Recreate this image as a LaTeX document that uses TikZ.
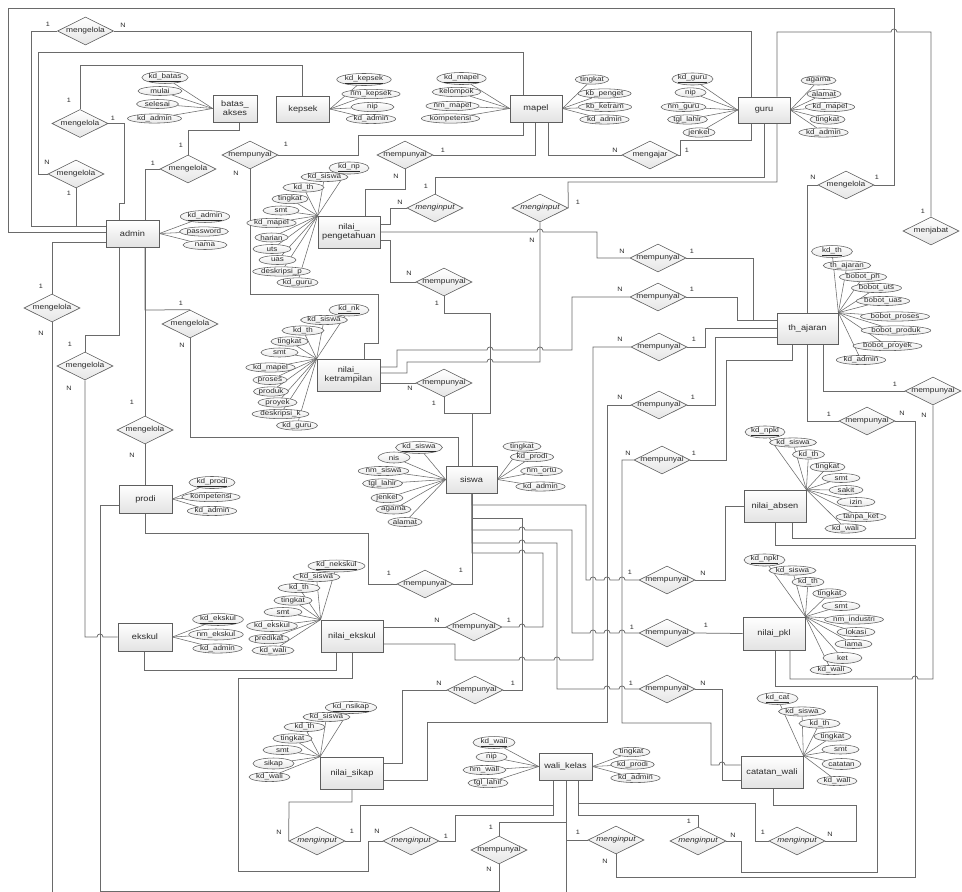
\documentclass[tikz,border=0pt]{standalone}
\usepackage{fontspec}
\setmainfont[FakeStretch=1.15]{Liberation Sans}
\usetikzlibrary{shapes.geometric}
\pgfdeclarelayer{background}
\pgfsetlayers{background,main}
\definecolor{ln}{HTML}{6A6A6A}
\definecolor{bd}{HTML}{5E5E5E}
\definecolor{tx}{HTML}{2A2A2A}
% line hops over a crossing vertical line: rightward / leftward
\def\hopR#1#2{-- (#1-3,#2) .. controls (#1-3,#2-4) and (#1+3,#2-4) .. (#1+3,#2)}
\def\hopL#1#2{-- (#1+3,#2) .. controls (#1+3,#2-4) and (#1-3,#2-4) .. (#1-3,#2)}
\tikzset{
  conn/.style={draw=ln, line width=0.75pt},
  fan/.style={draw=ln, line width=0.55pt},
  ent/.style={rectangle, draw=bd, line width=0.7pt, top color=white, bottom color=gray!22,
    text=tx, font=\fontsize{8}{9}\selectfont, align=center, inner sep=1pt},
  attr/.style={ellipse, draw=bd, line width=0.55pt, top color=white, bottom color=gray!18,
    text=tx, font=\fontsize{7}{7}\selectfont, inner sep=0pt, minimum height=9pt},
  rel/.style={diamond, draw=bd, line width=0.6pt, top color=white, bottom color=gray!20,
    text=tx, font=\fontsize{7.3}{8}\selectfont, inner sep=-1pt, minimum width=56pt,
    minimum height=28pt, aspect=2},
  card/.style={text=tx, font=\fontsize{6.3}{6}\selectfont, inner sep=0pt},
}
\begin{document}
\begin{tikzpicture}[x=1pt,y=-1pt]
\useasboundingbox (0,0) rectangle (962,892);
\begin{pgfonlayer}{background}
\fill[white] (0,0) rectangle (962,892);
\end{pgfonlayer}

% ---------------- entities
\node[ent, minimum width=53pt, minimum height=27pt] (admin) at (132.5,233.5) {admin};
\node[ent, minimum width=44pt, minimum height=27pt] (batas) at (235,108.5) {batas\_\\akses};
\node[ent, minimum width=53pt, minimum height=26pt] (kepsek) at (303,109) {kepsek};
\node[ent, minimum width=52pt, minimum height=27pt] (mapel) at (536,108.5) {mapel};
\node[ent, minimum width=52pt, minimum height=26pt] (guru) at (764,110) {guru};
\node[ent, minimum width=62pt, minimum height=32pt] (npeng) at (349,232) {nilai\_\\pengetahuan};
\node[ent, minimum width=63pt, minimum height=32pt] (nket) at (348.5,375) {nilai\_\\ketrampilan};
\node[ent, minimum width=61pt, minimum height=31pt] (thaj) at (807.5,328.5) {th\_ajaran};
\node[ent, minimum width=51pt, minimum height=27pt] (siswa) at (471.5,479.5) {siswa};
\node[ent, minimum width=53pt, minimum height=28pt] (prodi) at (145.5,499) {prodi};
\node[ent, minimum width=62pt, minimum height=32pt] (nabsen) at (775,506) {nilai\_absen};
\node[ent, minimum width=62pt, minimum height=33pt] (npkl) at (774,633.5) {nilai\_pkl};
\node[ent, minimum width=62pt, minimum height=32pt] (catwali) at (772,772) {catatan\_wali};
\node[ent, minimum width=53pt, minimum height=27pt] (walikelas) at (565.5,766.5) {wali\_kelas};
\node[ent, minimum width=63pt, minimum height=32pt] (nsikap) at (352,773) {nilai\_sikap};
\node[ent, minimum width=62pt, minimum height=32pt] (nekskul) at (352,636) {nilai\_ekskul};
\node[ent, minimum width=54pt, minimum height=28pt] (ekskul) at (145,637) {ekskul};

% ---------------- relationships
\node[rel] (D1) at (85.5,31) {mengelola};
\node[rel] (D2) at (80,123.5) {mengelola};
\node[rel] (D3) at (76,174) {mengelola};
\node[rel] (D4) at (188,169) {mengelola};
\node[rel] (D5) at (250,155) {mempunyai};
\node[rel] (D6) at (405,155) {mempunyai};
\node[rel] (D7) at (435,208) {\itshape menginput};
\node[rel] (D8) at (540,208) {\itshape menginput};
\node[rel] (D9) at (444,282) {mempunyai};
\node[rel] (D10) at (650,155) {mengajar};
\node[rel] (D11) at (846,185) {mengelola};
\node[rel] (D12) at (931,231) {menjabat};
\node[rel] (D13) at (658,258) {mempunyai};
\node[rel] (D14) at (658,297) {mempunyai};
\node[rel] (D15) at (659,347) {mempunyai};
\node[rel] (D16) at (659,405) {mempunyai};
\node[rel] (D17) at (52,308) {mengelola};
\node[rel] (D18) at (85,366) {mengelola};
\node[rel] (D19) at (190,324) {mengelola};
\node[rel] (D20) at (145,430) {mengelola};
\node[rel] (D21) at (444,383) {mempunyai};
\node[rel] (D22) at (425,584) {mempunyai};
\node[rel] (D23) at (474,627) {mempunyai};
\node[rel] (D24) at (475,690) {mempunyai};
\node[rel] (D25) at (667,580) {mempunyai};
\node[rel] (D26) at (667,633) {mempunyai};
\node[rel] (D27) at (667,689) {mempunyai};
\node[rel] (D28) at (662,460) {mempunyai};
\node[rel] (D29) at (933,391) {mempunyai};
\node[rel] (D30) at (867,421) {mempunyai};
\node[rel] (D33) at (411,841) {\itshape menginput};
\node[rel] (D34) at (317,841) {\itshape menginput};
\node[rel] (D35) at (499,850) {mempunyai};
\node[rel] (D36) at (616,840) {\itshape menginput};
\node[rel] (D37) at (698,841) {\itshape menginput};
\node[rel] (D38) at (797,841) {\itshape menginput};

% ---------------- attributes
% batas_akses
\node[attr, minimum width=46pt] (bt1) at (165,77.5) {\underline{kd\_batas}};
\node[attr, minimum width=44pt] (bt2) at (160,91) {mulai};
\node[attr, minimum width=42pt] (bt3) at (157.5,104) {selesai};
\node[attr, minimum width=54pt] (bt4) at (154.5,118.5) {kd\_admin};
% kepsek
\node[attr, minimum width=47pt] (kp1) at (364,79.5) {\underline{kd\_kepsek}};
\node[attr, minimum width=47pt] (kp2) at (371,94) {nm\_kepsek};
\node[attr, minimum width=43pt] (kp3) at (372.5,107) {nip};
\node[attr, minimum width=46pt] (kp4) at (371,119) {kd\_admin};
% mapel
\node[attr, minimum width=47pt] (mp1) at (461.5,78.5) {\underline{kd\_mapel}};
\node[attr, minimum width=43pt] (mp2) at (456.5,92) {kelompok};
\node[attr, minimum width=41pt] (mp3) at (452.5,106) {nm\_mapel};
\node[attr, minimum width=55pt] (mp4) at (450.5,118.5) {kompetensi};
\node[attr, minimum width=32pt] (mp5) at (592,79.5) {tingkat};
\node[attr, minimum width=45pt] (mp6) at (604.5,93.5) {kb\_penget};
\node[attr, minimum width=45pt] (mp7) at (605,107) {kb\_ketram};
\node[attr, minimum width=45pt] (mp8) at (604.5,119.5) {kd\_admin};
% guru
\node[attr, minimum width=41pt] (gr1) at (692.5,79) {\underline{kd\_guru}};
\node[attr, minimum width=31pt] (gr2) at (690.5,92.5) {nip};
\node[attr, minimum width=43pt] (gr3) at (683.5,107) {nm\_guru};
\node[attr, minimum width=39pt] (gr4) at (687.5,119.5) {tgl\_lahir};
\node[attr, minimum width=32pt] (gr5) at (699,132.5) {jenkel};
\node[attr, minimum width=33pt] (gr6) at (818.5,80.5) {agama};
\node[attr, minimum width=32pt] (gr7) at (824,94) {alamat};
\node[attr, minimum width=38pt] (gr8) at (830,107) {kd\_mapel};
\node[attr, minimum width=35pt] (gr9) at (827.5,119.5) {tingkat};
\node[attr, minimum width=41pt] (gr10) at (823.5,132.5) {kd\_admin};
% admin
\node[attr, minimum width=46pt] (ad1) at (205,216.5) {\underline{kd\_admin}};
\node[attr, minimum width=48pt] (ad2) at (204,231.5) {password};
\node[attr, minimum width=44pt] (ad3) at (205,245) {nama};
% nilai_pengetahuan
\node[attr, minimum width=40pt] (np1) at (349,168) {\underline{kd\_np}};
\node[attr, minimum width=38pt] (np2) at (324.5,177) {kd\_siswa};
\node[attr, minimum width=41pt] (np3) at (303.5,187.5) {kd\_th};
\node[attr, minimum width=36pt] (np4) at (290,199) {tingkat};
\node[attr, minimum width=36pt] (np5) at (281,210.5) {smt};
\node[attr, minimum width=40pt] (np6) at (271.5,223) {kd\_mapel};
\node[attr, minimum width=33pt] (np7) at (271.5,237.5) {harian};
\node[attr, minimum width=38pt] (np8) at (272,249) {uts};
\node[attr, minimum width=37pt] (np9) at (277.5,260) {uas};
\node[attr, minimum width=49pt] (np10) at (281.5,271.5) {deskripsi\_p};
\node[attr, minimum width=41pt] (np11) at (297.5,282.5) {kd\_guru};
% nilai_ketrampilan
\node[attr, minimum width=40pt] (nk1) at (349,310) {\underline{kd\_nk}};
\node[attr, minimum width=38pt] (nk2) at (324,320) {kd\_siswa};
\node[attr, minimum width=42pt] (nk3) at (303,330.5) {kd\_th};
\node[attr, minimum width=37pt] (nk4) at (289.5,341.5) {tingkat};
\node[attr, minimum width=37pt] (nk5) at (279.5,352.5) {smt};
\node[attr, minimum width=40pt] (nk6) at (270.5,367.5) {kd\_mapel};
\node[attr, minimum width=33pt] (nk7) at (270,380) {proses};
\node[attr, minimum width=35pt] (nk8) at (271,391.5) {produk};
\node[attr, minimum width=39pt] (nk9) at (277.5,402.5) {proyek};
\node[attr, minimum width=49pt] (nk10) at (280.5,414) {deskripsi\_k};
\node[attr, minimum width=40pt] (nk11) at (297,425.5) {kd\_guru};
% siswa
\node[attr, minimum width=42pt] (sw1) at (419,447.5) {\underline{kd\_siswa}};
\node[attr, minimum width=32pt, minimum height=11pt] (sw2) at (394,457.5) {nis};
\node[attr, minimum width=41pt] (sw3) at (383.5,471) {nm\_siswa};
\node[attr, minimum width=37pt] (sw4) at (382.5,483.5) {tgl\_lahir};
\node[attr, minimum width=32pt] (sw5) at (387,498) {jenkel};
\node[attr, minimum width=33pt] (sw6) at (393.5,509.5) {agama};
\node[attr, minimum width=34pt] (sw7) at (405,522) {alamat};
\node[attr, minimum width=38pt] (sw8) at (522,446.5) {tingkat};
\node[attr, minimum width=37pt] (sw9) at (532,457) {kd\_prodi};
\node[attr, minimum width=41pt] (sw10) at (541.5,471) {nm\_ortu};
\node[attr, minimum width=41pt] (sw11) at (540.5,486.5) {kd\_admin};
% th_ajaran
\node[attr, minimum width=41pt] (th1) at (832,251.5) {\underline{kd\_th}};
\node[attr, minimum width=40pt] (th2) at (847,265.5) {th\_ajaran};
\node[attr, minimum width=38pt] (th3) at (863,277) {bobot\_ph};
\node[attr, minimum width=40pt] (th4) at (876.5,288) {bobot\_uts};
\node[attr, minimum width=40pt] (th5) at (883,301) {bobot\_uas};
\node[attr, minimum width=55pt] (th6) at (895,316.5) {bobot\_proses};
\node[attr, minimum width=54pt] (th7) at (896,330.5) {bobot\_produk};
\node[attr, minimum width=55pt] (th8) at (887.5,346) {bobot\_proyek};
\node[attr, minimum width=42pt] (th9) at (861,360) {kd\_admin};
% nilai_absen
\node[attr, minimum width=40pt] (ab1) at (765,432) {\underline{kd\_npkl}};
\node[attr, minimum width=38pt] (ab2) at (793,442.5) {kd\_siswa};
\node[attr, minimum width=32pt] (ab3) at (808.5,454.5) {kd\_th};
\node[attr, minimum width=35pt] (ab4) at (827.5,467) {tingkat};
\node[attr, minimum width=38pt] (ab5) at (841,478) {smt};
\node[attr, minimum width=34pt] (ab6) at (846,490) {sakit};
\node[attr, minimum width=38pt] (ab7) at (856,502) {izin};
\node[attr, minimum width=44pt] (ab8) at (861,517) {tanpa\_ket};
\node[attr, minimum width=41pt] (ab9) at (845.5,528.5) {kd\_wali};
% nilai_pkl
\node[attr, minimum width=41pt] (pk1) at (764.5,560) {\underline{kd\_npkl}};
\node[attr, minimum width=39pt] (pk2) at (792.5,570.5) {kd\_siswa};
\node[attr, minimum width=32pt] (pk3) at (808,582) {kd\_th};
\node[attr, minimum width=32pt] (pk4) at (829.5,593.5) {tingkat};
\node[attr, minimum width=38pt] (pk5) at (841,606) {smt};
\node[attr, minimum width=52pt] (pk6) at (854,619.5) {nm\_industri};
\node[attr, minimum width=38pt] (pk7) at (856,632) {lokasi};
\node[attr, minimum width=37pt] (pk8) at (853.5,644) {lama};
\node[attr, minimum width=39pt, minimum height=11pt] (pk9) at (842.5,658) {ket};
\node[attr, minimum width=42pt] (pk10) at (831,670) {kd\_wali};
% catatan_wali
\node[attr, minimum width=41pt] (cw1) at (777.5,698.5) {\underline{kd\_cat}};
\node[attr, minimum width=38pt] (cw2) at (802,711.5) {kd\_siswa};
\node[attr, minimum width=41pt] (cw3) at (819.5,723.5) {kd\_th};
\node[attr, minimum width=37pt] (cw4) at (832.5,736.5) {tingkat};
\node[attr, minimum width=37pt] (cw5) at (840.5,749.5) {smt};
\node[attr, minimum width=39pt, minimum height=11pt] (cw6) at (841.5,764) {catatan};
\node[attr, minimum width=40pt] (cw7) at (837,781) {kd\_wali};
% wali_kelas
\node[attr, minimum width=42pt] (wk1) at (494,742.5) {\underline{kd\_wali}};
\node[attr, minimum width=31pt] (wk2) at (491.5,757) {nip};
\node[attr, minimum width=43pt] (wk3) at (484.5,770) {nm\_wali};
\node[attr, minimum width=38pt] (wk4) at (488,783) {tgl\_lahir};
\node[attr, minimum width=37pt] (wk5) at (631.5,752) {tingkat};
\node[attr, minimum width=39pt] (wk6) at (632.5,764.5) {kd\_prodi};
\node[attr, minimum width=45pt] (wk7) at (635.5,778) {kd\_admin};
% nilai_sikap
\node[attr, minimum width=40pt] (sk1) at (351,707.5) {\underline{kd\_nsikap}};
\node[attr, minimum width=37pt] (sk2) at (326.5,717) {kd\_siswa};
\node[attr, minimum width=41pt] (sk3) at (304.5,727) {kd\_th};
\node[attr, minimum width=39pt] (sk4) at (292.5,738.5) {tingkat};
\node[attr, minimum width=39pt] (sk5) at (282.5,750) {smt};
\node[attr, minimum width=41pt, minimum height=11pt] (sk6) at (273.5,763.5) {sikap};
\node[attr, minimum width=41pt] (sk7) at (269.5,777) {kd\_wali};
% nilai_ekskul
\node[attr, minimum width=47pt] (ne1) at (336.5,566) {\underline{kd\_nekskul}};
\node[attr, minimum width=37pt] (ne2) at (316.5,577) {kd\_siswa};
\node[attr, minimum width=42pt] (ne3) at (299,588) {kd\_th};
\node[attr, minimum width=38pt] (ne4) at (293,600.5) {tingkat};
\node[attr, minimum width=38pt] (ne5) at (283,612) {smt};
\node[attr, minimum width=46pt, minimum height=11pt] (ne6) at (272,626) {kd\_ekskul};
\node[attr, minimum width=40pt] (ne7) at (269,639) {predikat};
\node[attr, minimum width=42pt] (ne8) at (273,650.5) {kd\_wali};
% ekskul
\node[attr, minimum width=46pt] (ek1) at (218,619.5) {\underline{kd\_ekskul}};
\node[attr, minimum width=46pt, minimum height=11pt] (ek2) at (216,634.5) {nm\_ekskul};
\node[attr, minimum width=45pt] (ek3) at (217.5,648.5) {kd\_admin};
% prodi
\node[attr, minimum width=46pt] (pr1) at (212,482.5) {\underline{kd\_prodi}};
\node[attr, minimum width=48pt] (pr2) at (211,497) {kompetensi};
\node[attr, minimum width=46pt] (pr3) at (212,511) {kd\_admin};

% free ends at the lower edge
\coordinate (e1) at (52,892);
\coordinate (e2) at (566,892);

% ---------------- cardinalities
\foreach \t/\x/\y [count=\i] in {
 1/48/24, N/123/25, 1/69/100, 1/113/118, N/47/162, 1/69/193,
 1/181/145, 1/153/163, 1/286/144, N/236/173, 1/443/150, N/396/176,
 1/426/186, N/400/202, 1/578/202, N/532/240, N/409/273, 1/437/303,
 N/615/150, 1/687/150, N/813/177, 1/877/177, 1/923/211,
 N/622/251, 1/692/251, N/620/289, 1/692/289, N/620/339, 1/694/339,
 N/620/397, 1/693/397, 1/41/286, N/41/333, 1/70/344, N/69/388,
 1/181/303, N/182/345, 1/132/402, N/132/455, N/410/388, 1/434/403,
 1/389/573, 1/461/570, N/437/620, 1/509/620, N/439/683, 1/513/683,
 1/630/572, N/703/573, 1/632/627, 1/706/625, 1/631/683, N/703/683,
 N/628/453, 1/694/453, 1/895/384, N/924/415, 1/829/414, N/902/413,
 N/377/831, 1/446/836, N/279/832, 1/352/831, 1/491/827, N/489/869,
 1/578/832, N/605/861, 1/689/821, N/733/835, 1/763/832, N/830/834}
 \node[card] (c\i) at (\x,\y) {\t};

% ---------------- connectors
\begin{pgfonlayer}{background}
% attribute fans
\foreach \n in {bt1,bt2,bt3,bt4} \draw[fan] (batas.west) -- (\n);
\foreach \n in {kp1,kp2,kp3,kp4} \draw[fan] (kepsek.east) -- (\n);
\foreach \n in {mp1,mp2,mp3,mp4} \draw[fan] (mapel.west) -- (\n);
\foreach \n in {mp5,mp6,mp7,mp8} \draw[fan] (mapel.east) -- (\n);
\foreach \n in {gr1,gr2,gr3,gr4,gr5} \draw[fan] (guru.west) -- (\n);
\foreach \n in {gr6,gr7,gr8,gr9,gr10} \draw[fan] (guru.east) -- (\n);
\foreach \n in {ad1,ad2,ad3} \draw[fan] (admin.east) -- (\n);
\foreach \n in {np1,np2,np3,np4,np5,np6,np7,np8,np9,np10,np11} \draw[fan] (npeng.north west) -- (\n);
\foreach \n in {nk1,nk2,nk3,nk4,nk5,nk6,nk7,nk8,nk9,nk10,nk11} \draw[fan] (nket.north west) -- (\n);
\foreach \n in {sw1,sw2,sw3,sw4,sw5,sw6,sw7} \draw[fan] (siswa.west) -- (\n);
\foreach \n in {sw8,sw9,sw10,sw11} \draw[fan] (siswa.east) -- (\n);
\foreach \n in {th1,th2,th3,th4,th5,th6,th7,th8,th9} \draw[fan] (thaj.north east) -- (\n);
\foreach \n in {ab1,ab2,ab3,ab4,ab5,ab6,ab7,ab8,ab9} \draw[fan] (nabsen.north east) -- (\n);
\foreach \n in {pk1,pk2,pk3,pk4,pk5,pk6,pk7,pk8,pk9,pk10} \draw[fan] (npkl.north east) -- (\n);
\foreach \n in {cw1,cw2,cw3,cw4,cw5,cw6,cw7} \draw[fan] (catwali.north east) -- (\n);
\foreach \n in {wk1,wk2,wk3,wk4} \draw[fan] (walikelas.west) -- (\n);
\foreach \n in {wk5,wk6,wk7} \draw[fan] (walikelas.east) -- (\n);
\foreach \n in {sk1,sk2,sk3,sk4,sk5,sk6,sk7} \draw[fan] (nsikap.north west) -- (\n);
\foreach \n in {ne1,ne2,ne3,ne4,ne5,ne6,ne7,ne8} \draw[fan] (nekskul.north west) -- (\n);
\foreach \n in {ek1,ek2,ek3} \draw[fan] (ekskul.east) -- (\n);
\foreach \n in {pr1,pr2,pr3} \draw[fan] (prodi.east) -- (\n);

% admin relationships
\draw[conn] (admin.west |- 0,232) -- (8,232) -- (8,8) -- (894,8) -- (894,185) -- (D11.east);
\draw[conn] (D11.west) -- (807,185) -- (807,0 |- thaj.north);
\draw[conn] (D1.west) -- (31,31) -- (31,226) -- (admin.west |- 0,226);
\draw[conn] (D1.east) -- (751,31) -- (751,0 |- guru.north);
\draw[conn] (D2.north) -- (80,65) -- (302,65) -- (302,0 |- kepsek.north);
\draw[conn] (D2.east) -- (124,123.5) -- (124,203) -- (119,203) -- (119,0 |- admin.north);
\draw[conn] (D3.west) -- (38,174) -- (38,52) -- (523,52) -- (523,0 |- mapel.north);
\draw[conn] (D3.south) -- (76,226) -- (admin.west |- 0,226);
\draw[conn] (D4.north) -- (188,130) -- (239,130) -- (239,0 |- batas.south);
\draw[conn] (D4.west) -- (145,169) -- (145,0 |- admin.north);
\draw[conn] (admin.west |- 0,242) -- (52,242) -- (D17.north);
\draw[conn] (D17.south) -- (e1);
\draw[conn] (admin.south -| 119,0) -- (119,335) -- (85,335) -- (D18.north);
\draw[conn] (D18.south) -- (85,637) \hopR{100}{637} -- (ekskul.west);
\draw[conn] (admin.south -| 145,0) -- (145,310) -- (D19.north);
\draw[conn] (D19.south) -- (190,437) -- (458,437) -- (458,0 |- siswa.north);
\draw[conn] (admin.south -| 145,0) -- (D20.north);
\draw[conn] (D20.south) -- (prodi.north -| 145,0);

% mapel and guru
\draw[conn] (D5.east) -- (358,155) -- (358,135) -- (523,135) -- (523,0 |- mapel.south);
\draw[conn] (D5.south) -- (250,294) -- (378,294) -- (378,343) -- (364,343) -- (364,0 |- nket.north);
\draw[conn] (D6.east) -- (535,155) -- (535,0 |- mapel.south);
\draw[conn] (D6.south) -- (405,189) -- (365,189) -- (365,0 |- npeng.north);
\draw[conn] (mapel.south -| 548,0) -- (548,155) -- (D10.west);
\draw[conn] (D10.east) -- (680,155) -- (680,140) -- (751,140) -- (guru.south -| 751,0);
\draw[conn] (guru.south -| 764,0) -- (764,177) -- (435,177) -- (D7.north);
\draw[conn] (D7.west) -- (390,208) -- (390,224) -- (npeng.east |- 0,224);
\draw[conn] (guru.south -| 777,0) -- (777,182) -- (568,182) -- (D8.east);
\draw[conn] (D8.south) -- (540,362) \hopL{490}{362} -- (407,362) -- (407,373) -- (nket.east |- 0,373);
\draw[conn] (guru.north -| 777,0) -- (777,32) \hopR{894}{32} -- (931,32) -- (D12.north);

% th_ajaran
\draw[conn] (npeng.east |- 0,232) \hopR{540}{232} -- (597,232) -- (597,258) -- (D13.west);
\draw[conn] (D13.east) -- (753,258) -- (753,320) -- (thaj.west |- 0,320);
\draw[conn] (D14.west) -- (572,297) -- (572,350) \hopL{540}{350} \hopL{490}{350} -- (397,350) -- (397,367) -- (nket.east |- 0,367);
\draw[conn] (D14.east) -- (737,297) -- (737,320) -- (thaj.west |- 0,320);
\draw[conn] (D15.east) -- (705,347) -- (705,328) -- (thaj.west |- 0,328);
\draw[conn] (D15.west) -- (593,347) -- (593,660) \hopL{557}{660} \hopL{522}{660} -- (455,660) -- (455,644) -- (nekskul.east |- 0,644);
\draw[conn] (D16.east) -- (715,405) -- (715,337) -- (thaj.west |- 0,337);
\draw[conn] (D16.west) -- (607,405) -- (607,722) -- (427,722) -- (427,780) -- (nsikap.east |- 0,780);
\draw[conn] (D28.east) -- (726,460) -- (726,360) -- (792,360) -- (thaj.south -| 792,0);
\draw[conn] (D28.west) -- (622,460) -- (622,723) -- (711,723) -- (711,765) \hopR{722}{765} -- (catwali.west |- 0,765);
\draw[conn] (thaj.south -| 823,0) -- (823,391) -- (D29.west);
\draw[conn] (D29.south) -- (933,679) \hopL{915}{679} -- (790,679) -- (npkl.south -| 790,0);
\draw[conn] (thaj.south -| 807,0) -- (807,421) -- (D30.west);
\draw[conn] (D30.east) -- (915,421) -- (915,538) -- (792,538) -- (nabsen.south -| 792,0);

% siswa
\draw[conn] (npeng.east |- 0,240) -- (390,240) -- (390,282) -- (D9.west);
\draw[conn] (D9.south) -- (444,313) -- (490,313) -- (490,413) -- (472,413) -- (472,0 |- siswa.north);
\draw[conn] (nket.east |- 0,383) -- (D21.west);
\draw[conn] (D21.south) -- (444,413) -- (472,413) -- (472,0 |- siswa.north);
\draw[conn] (prodi.south -| 145,0) -- (145,533) -- (368,533) -- (368,584) -- (D22.west);
\draw[conn] (D22.east) -- (472,584) -- (siswa.south -| 472,0);
\draw[conn] (siswa.south -| 472,0) -- (472,505) -- (586,505) -- (586,580) \hopR{593}{580} \hopR{607}{580} \hopR{622}{580} -- (D25.west);
\draw[conn] (D25.east) -- (725,580) -- (725,506) -- (nabsen.west);
\draw[conn] (siswa.south -| 472,0) -- (472,518) -- (522,518) -- (522,690) -- (D24.east);
\draw[conn] (D24.west) -- (402,690) -- (402,763) -- (nsikap.east |- 0,763);
\draw[conn] (siswa.south -| 472,0) -- (472,530) \hopR{522}{530} -- (572,530) -- (572,633) \hopR{593}{633} \hopR{607}{633} \hopR{622}{633} -- (D26.west);
\draw[conn] (D26.east) -- (npkl.west);
\draw[conn] (siswa.south -| 472,0) -- (472,543) \hopR{522}{543} -- (557,543) -- (557,689) \hopR{607}{689} \hopR{622}{689} -- (D27.west);
\draw[conn] (D27.east) -- (722,689) -- (722,780) -- (catwali.west |- 0,780);
\draw[conn] (siswa.south -| 472,0) -- (472,553) \hopR{522}{553} -- (543,553) -- (543,627) \hopL{522}{627} -- (D23.east);
\draw[conn] (nekskul.east |- 0,627) -- (D23.west);

% wali_kelas
\draw[conn] (walikelas.south -| 566,0) -- (e2);
\draw[conn] (walikelas.south -| 566,0) -- (566,840) -- (D36.west);
\draw[conn] (D36.south) -- (616,877) -- (915,877) -- (915,545) -- (775,545) -- (nabsen.south -| 775,0);
\draw[conn] (walikelas.south -| 566,0) -- (566,822) -- (499,822) -- (D35.north);
\draw[conn] (D35.south) -- (499,891) -- (100,891) -- (100,505) -- (prodi.west |- 0,505);
\draw[conn] (walikelas.south -| 578,0) -- (578,815) -- (698,815) -- (D37.north);
\draw[conn] (D37.east) -- (741,841) -- (741,872) -- (877,872) -- (877,686) -- (775,686) -- (npkl.south -| 775,0);
\draw[conn] (walikelas.south -| 578,0) -- (578,803) -- (755,803) -- (755,841) -- (D38.west);
\draw[conn] (D38.east) -- (856,841) -- (856,805) -- (773,805) -- (catwali.south -| 773,0);
\draw[conn] (nekskul.south -| 352,0) -- (352,678) -- (238,678) -- (238,871) -- (368,871) -- (368,841) -- (D33.west);
\draw[conn] (D33.east) -- (455,841) -- (455,815) -- (553,815) -- (walikelas.south -| 553,0);
\draw[conn] (nsikap.south -| 352,0) -- (352,802) -- (289,802) -- (D34.west);
\draw[conn] (D34.east) -- (360,841) -- (360,805) -- (553,805) -- (walikelas.south -| 553,0);
\draw[conn] (ekskul.south -| 144,0) -- (144,670) -- (336,670) -- (nekskul.south -| 336,0);
\end{pgfonlayer}
\end{tikzpicture}
\end{document}
